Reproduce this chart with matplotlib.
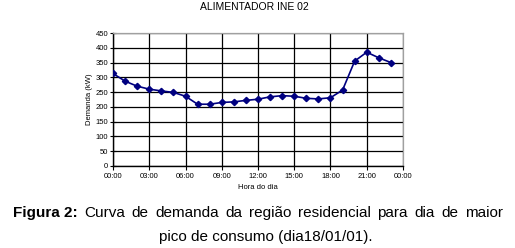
import matplotlib
matplotlib.use("Agg")
import matplotlib.pyplot as plt

plt.rcParams['font.family'] = ['Liberation Sans', 'DejaVu Sans']

hours = list(range(24))
demand = [313, 287, 270, 260, 254, 249, 236, 209, 209, 215, 217, 222,
          226, 234, 238, 236, 229, 227, 231, 257, 355, 385, 366, 350]
xtick_labels = ["00:00", "03:00", "06:00", "09:00", "12:00", "15:00", "18:00", "21:00", "00:00"]
yticks = list(range(0, 451, 50))
title = "ALIMENTADOR INE 02"
xlabel = "Hora do dia"
ylabel = "Demanda (kW)"

fig = plt.figure(figsize=(5.15, 2.48), dpi=100)
W, H = 515, 248
ax = fig.add_axes([113 / W, 1 - 166 / H, 290 / W, 133 / H])

ax.plot(hours, demand, color='#000080', lw=1.2, marker='D', ms=3.2,
        markerfacecolor='#000080', markeredgecolor='#000080', zorder=3)

ax.set_xlim(0, 24)
ax.set_ylim(0, 450)
ax.set_xticks(list(range(0, 25, 3)))
ax.set_xticklabels(xtick_labels, fontsize=5.5)
ax.set_yticks(yticks)
ax.set_yticklabels([str(v) for v in yticks], fontsize=5.5)
ax.tick_params(axis='x', direction='out', length=3, width=0.8, pad=2)
ax.tick_params(axis='y', direction='inout', length=4, width=0.8, pad=1.5)
ax.grid(True, color='black', lw=0.9)
for s in ['top', 'right']:
    ax.spines[s].set_color('#a0a0a0')
    ax.spines[s].set_linewidth(0.9)
for s in ['left', 'bottom']:
    ax.spines[s].set_color('black')
    ax.spines[s].set_linewidth(1.0)

ax.set_xlabel(xlabel, fontsize=5.5, labelpad=3)
ax.set_ylabel(ylabel, fontsize=5.5, labelpad=2)

fig.text(254.5 / W, 1 - 6.5 / H, title, fontsize=7.5,
         ha='center', va='center')

# Caption (justified first line)
words = ["Curva", "de", "demanda", "da", "região", "residencial", "para", "dia", "de", "maior"]
y1 = 1 - 213 / H
fs = 11
r = fig.canvas.get_renderer()
t0 = fig.text(13 / W, y1, "Figura 2:", fontsize=fs, fontweight='bold', ha='left', va='center')
widths = []
tmp = []
for w in words:
    t = fig.text(0, y1, w, fontsize=fs, ha='left', va='center')
    tmp.append(t)
    widths.append(t.get_window_extent(r).width)
w0 = t0.get_window_extent(r).width
left = 13 + w0
right = 503
gap = (right - left - sum(widths)) / len(words)
x = left + gap
for t, wd in zip(tmp, widths):
    t.set_x(x / W)
    x += wd + gap

fig.text(265.5 / W, 1 - 237 / H, "pico de consumo (dia18/01/01).", fontsize=fs,
         ha='center', va='center')

fig.savefig("out.png", dpi=100)
